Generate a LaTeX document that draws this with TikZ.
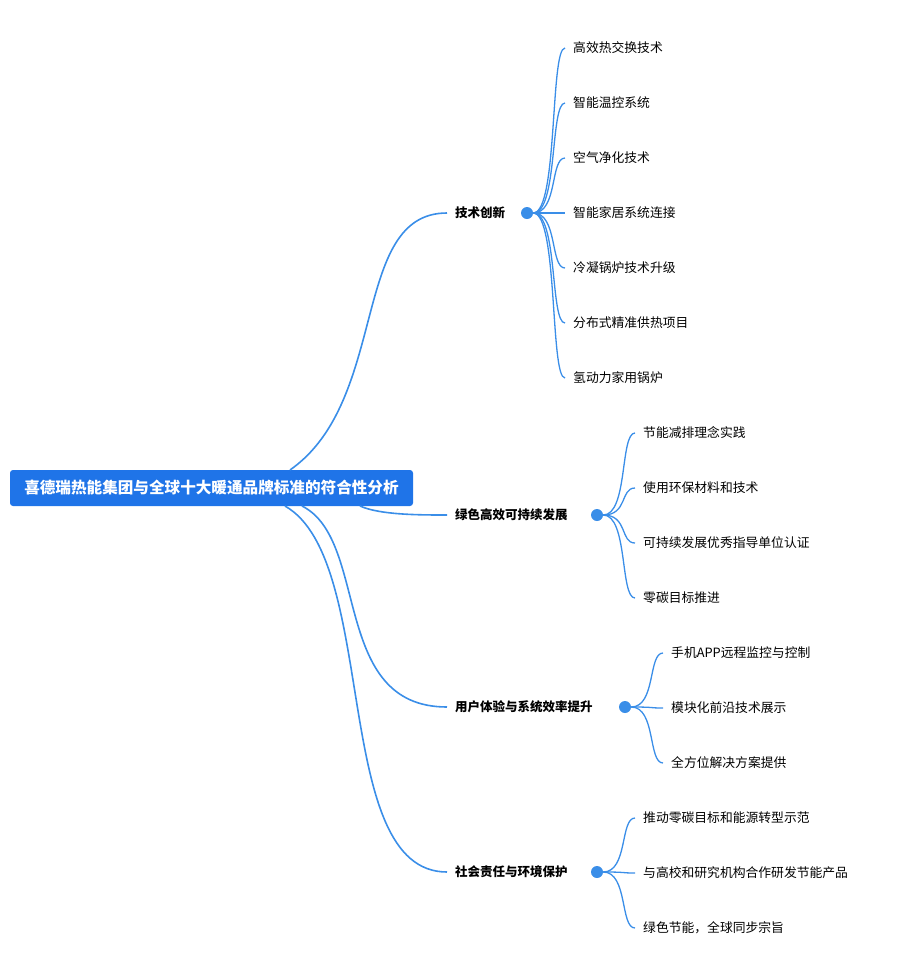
\documentclass[tikz,border=0pt]{standalone}
\usepackage{fontspec}
\newfontfamily\cjk{Noto Sans CJK SC}
\definecolor{lc}{HTML}{3A8EE8}
\definecolor{rootc}{HTML}{1F74E8}
\begin{document}
\begin{tikzpicture}[x=1pt,y=-1pt,
  rootbox/.style={fill=rootc,rounded corners=3pt,text=white,font=\cjk\bfseries\fontsize{15.6}{18}\selectfont,minimum height=36pt,minimum width=403pt,inner sep=0pt},
  branch/.style={anchor=west,font=\cjk\bfseries\fontsize{12.5}{14}\selectfont,inner sep=0pt},
  leaf/.style={anchor=west,font=\cjk\fontsize{12.8}{14}\selectfont,inner sep=0pt},
  dotn/.style={circle,fill=lc,minimum size=12pt,inner sep=0pt},
  conn/.style={draw=lc,line width=1.6pt}]
\useasboundingbox (0,0) rectangle (900,975);
\node[rootbox] (root) at (211.5,488) {喜德瑞热能集团与全球十大暖通品牌标准的符合性分析};
\coordinate (r1) at (290,470);
\coordinate (r2) at (360,506);
\coordinate (r3) at (302,506);
\coordinate (r4) at (285,506);
% branches
\node[branch] (b1) at (455,213) {技术创新};
\node[dotn] (d1) at (527,213) {};
\node[branch] (b2) at (455,515) {绿色高效可持续发展};
\node[dotn] (d2) at (597,515) {};
\node[branch] (b3) at (455,707) {用户体验与系统效率提升};
\node[dotn] (d3) at (625,707) {};
\node[branch] (b4) at (455,872) {社会责任与环境保护};
\node[dotn] (d4) at (597,872) {};
\draw[conn] (r1) .. controls (390,400) and (350,213) .. ([xshift=-8pt]b1.west);
\draw[conn] (r2) .. controls (380,515) and (420,515) .. ([xshift=-8pt]b2.west);
\draw[conn] (r3) .. controls (370,540) and (330,707) .. ([xshift=-8pt]b3.west);
\draw[conn] (r4) .. controls (380,560) and (330,872) .. ([xshift=-8pt]b4.west);
% leaves
\foreach \t [count=\i] in {高效热交换技术,智能温控系统,空气净化技术,智能家居系统连接,冷凝锅炉技术升级,分布式精准供热项目,氢动力家用锅炉}{
  \node[leaf] (l1\i) at (573,{48+55*(\i-1)}) {\t};
  \draw[conn,line width=1.3pt] (d1) .. controls (558,213) and (550,{48+55*(\i-1)}) .. ([xshift=-8pt]l1\i.west);
}
\foreach \t [count=\i] in {节能减排理念实践,使用环保材料和技术,可持续发展优秀指导单位认证,零碳目标推进}{
  \node[leaf] (l2\i) at (643,{433+55*(\i-1)}) {\t};
  \draw[conn,line width=1.3pt] (d2) .. controls (628,515) and (620,{433+55*(\i-1)}) .. ([xshift=-8pt]l2\i.west);
}
\foreach \t [count=\i] in {手机APP远程监控与控制,模块化前沿技术展示,全方位解决方案提供}{
  \node[leaf] (l3\i) at (671,{653+55*(\i-1)}) {\t};
  \draw[conn,line width=1.3pt] (d3) .. controls (656,707) and (648,{653+55*(\i-1)}) .. ([xshift=-8pt]l3\i.west);
}
\foreach \t [count=\i] in {推动零碳目标和能源转型示范,与高校和研究机构合作研发节能产品,绿色节能，全球同步宗旨}{
  \node[leaf] (l4\i) at (643,{818+55*(\i-1)}) {\t};
  \draw[conn,line width=1.3pt] (d4) .. controls (628,872) and (620,{818+55*(\i-1)}) .. ([xshift=-8pt]l4\i.west);
}
\end{tikzpicture}
\end{document}
